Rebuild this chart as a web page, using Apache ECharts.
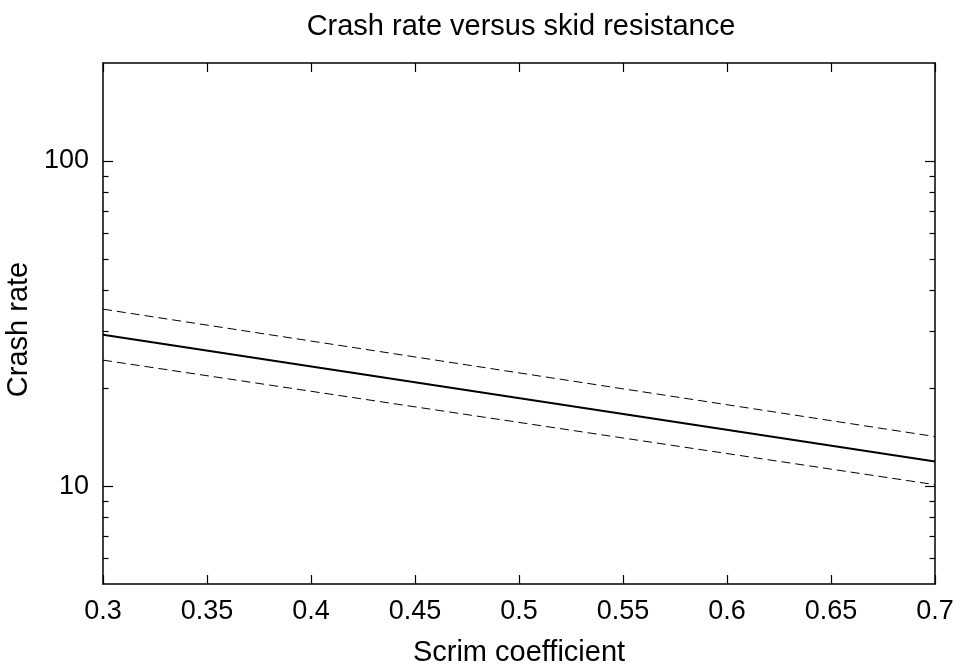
<!DOCTYPE html>
<html lang="en">
<head>
  <meta charset="UTF-8">
  <title>Crash rate versus skid resistance</title>
  <style>
    html, body { margin: 0; padding: 0; background: #fff; }
    #main { width: 957px; height: 668px; }
  </style>
</head>
<body>
  <div id="main"></div>
  <script src="https://cdn.jsdelivr.net/npm/echarts@6/dist/echarts.min.js"></script>
  <script>
    var scrim = [0.3, 0.7]
    var fitted = [29.2, 11.9]
    var upper = [35.0, 14.2]
    var lower = [24.4, 10.1]
    var majorY = [10, 100]
    var minorY = [6, 7, 8, 9, 20, 30, 40, 50, 60, 70, 80, 90]

    var font = 'Liberation Sans, Arial, sans-serif'
    var black = '#000'

    function pairs (ys) {
      return ys.map(function (y, i) { return [scrim[i], y] })
    }

    function yAxisDef (pos, len, ticks, showLabel, showLine) {
      return {
        type: 'log',
        position: pos,
        min: 5,
        max: 200,
        splitLine: { show: false },
        axisLine: { show: showLine, lineStyle: { color: black, width: 1.5 } },
        axisTick: { show: true, inside: true, length: len, customValues: ticks, lineStyle: { color: black, width: 1.2 } },
        axisLabel: showLabel
          ? { show: true, customValues: majorY, color: black, fontFamily: font, fontSize: 27, margin: 14 }
          : { show: false }
      }
    }

    var myChart = echarts.init(document.getElementById('main'))
    var option = {
      animation: false,
      title: {
        text: 'Crash rate versus skid resistance',
        left: 516,
        textAlign: 'center',
        top: 7,
        textStyle: { color: black, fontFamily: font, fontSize: 29, fontWeight: 'normal' }
      },
      grid: { left: 103, right: 22, top: 63, bottom: 84, outerBoundsMode: 'none' },
      xAxis: [
        {
          type: 'value',
          min: 0.3,
          max: 0.7,
          interval: 0.05,
          name: 'Scrim coefficient',
          nameLocation: 'middle',
          nameGap: 54,
          nameTextStyle: { color: black, fontFamily: font, fontSize: 29 },
          splitLine: { show: false },
          axisLine: { lineStyle: { color: black, width: 1.5 } },
          axisTick: { inside: true, length: 9, lineStyle: { color: black, width: 1.2 } },
          axisLabel: { color: black, fontFamily: font, fontSize: 27, margin: 14 }
        },
        {
          type: 'value',
          position: 'top',
          min: 0.3,
          max: 0.7,
          interval: 0.05,
          splitLine: { show: false },
          axisLine: { lineStyle: { color: black, width: 1.5 } },
          axisTick: { inside: true, length: 9, lineStyle: { color: black, width: 1.2 } },
          axisLabel: { show: false }
        }
      ],
      yAxis: [
        Object.assign(yAxisDef('left', 10, majorY, true, true), {
          name: 'Crash rate',
          nameLocation: 'middle',
          nameRotate: 90,
          nameGap: 66,
          nameTextStyle: { color: black, fontFamily: font, fontSize: 29, padding: [0, 12, 0, 0] }
        }),
        yAxisDef('left', 5.5, minorY, false, false),
        yAxisDef('right', 10, majorY, false, true),
        yAxisDef('right', 5.5, minorY, false, false)
      ],
      series: [
        {
          type: 'line',
          data: pairs(fitted),
          symbol: 'none',
          lineStyle: { color: black, width: 2 }
        },
        {
          type: 'line',
          data: pairs(upper),
          symbol: 'none',
          lineStyle: { color: black, width: 1, type: [9, 5] }
        },
        {
          type: 'line',
          data: pairs(lower),
          symbol: 'none',
          lineStyle: { color: black, width: 1, type: [9, 5] }
        }
      ]
    }
    myChart.setOption(option)
  </script>
</body>
</html>
